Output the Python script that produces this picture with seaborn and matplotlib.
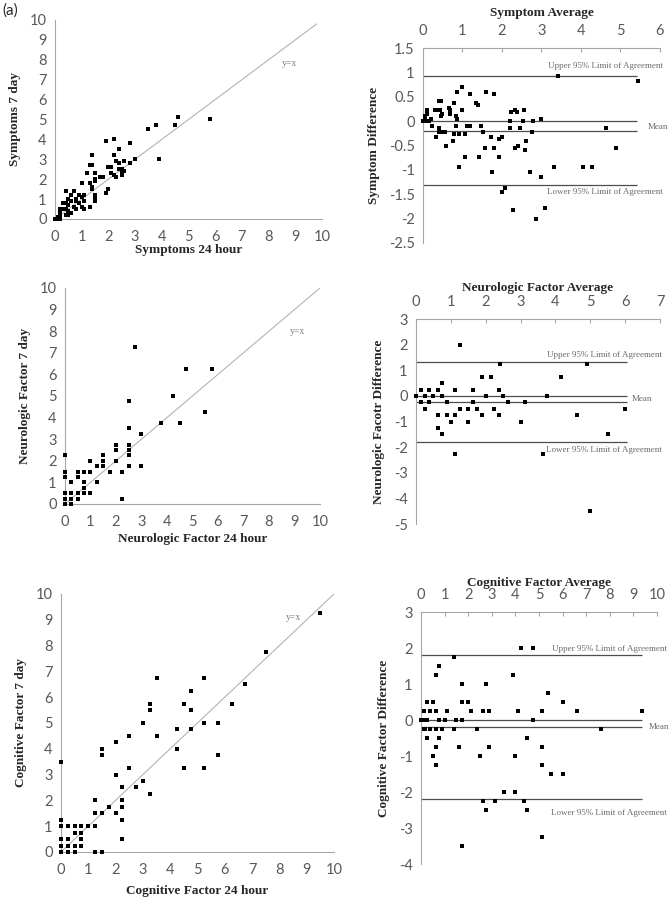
import matplotlib
matplotlib.use("Agg")
import matplotlib.pyplot as plt
import seaborn as sns
import pandas as pd

# -------------------------------
# Data
# -------------------------------
sym_24 = [5.8, 4.6, 4.5, 3.8, 3.5, 3.9, 3.0, 2.8, 2.8, 2.6, 2.4, 2.2, 1.9, 2.2, 2.3, 2.4, 2.0, 2.1,
          2.1, 2.2, 2.3, 2.4, 2.5, 2.5, 2.5, 2.6, 1.4, 1.3, 1.4, 1.2, 1.5, 1.5, 1.5, 1.3, 1.0, 1.4,
          1.4, 1.7, 1.8, 1.9, 2.0, 1.5, 1.5, 1.5, 1.3, 1.1, 1.1, 1.0, 1.0, 1.1, 0.9, 0.8, 0.8, 0.9,
          0.7, 0.4, 0.6, 0.5, 0.6, 0.4, 0.3, 0.5, 0.7, 0.8, 0.3, 0.2, 0.4, 0.5, 0.6, 0.4, 0.5, 0.2,
          0.2, 0.1, 0.2, 0.1, 0.0, 0.15]
sym_7 = [5.0, 5.1, 4.7, 4.7, 4.5, 3.0, 3.0, 3.8, 2.8, 2.9, 3.5, 4.0, 3.9, 3.2, 2.9, 2.8, 2.6, 2.6,
         2.3, 2.2, 2.1, 2.5, 2.5, 2.3, 2.2, 2.4, 3.2, 2.7, 2.7, 2.3, 2.3, 2.0, 1.9, 1.8, 1.8, 1.6,
         1.5, 2.1, 2.1, 1.3, 1.5, 1.2, 1.1, 0.9, 0.6, 1.2, 0.9, 1.1, 0.6, 0.5, 1.2, 1.0, 0.9, 0.8,
         1.4, 1.4, 1.2, 1.0, 0.9, 0.8, 0.8, 0.7, 0.6, 0.5, 0.5, 0.5, 0.5, 0.4, 0.3, 0.2, 0.2, 0.3,
         0.1, 0.1, 0.0, 0.0, 0.0, 0.05]

sym_avg = [5.44, 3.42, 4.64, 4.89, 4.27, 4.04, 3.31, 3.0, 3.09, 2.87, 2.29, 2.01, 2.07, 2.72, 1.76,
           3.0, 2.79, 2.77, 2.62, 2.59, 2.41, 2.32, 2.45, 2.52, 2.55, 2.33, 2.39, 2.24, 2.2, 2.21,
           1.99, 1.92, 1.93, 1.79, 1.72, 1.79, 1.59, 1.57, 1.53, 1.46, 1.42, 1.4, 1.34, 1.18, 1.11,
           1.06, 1.06, 1.18, 0.99, 0.85, 0.99, 0.91, 0.9, 0.83, 0.85, 0.83, 0.78, 0.79, 0.76, 0.66,
           0.68, 0.68, 0.58, 0.57, 0.51, 0.46, 0.48, 0.45, 0.4, 0.45, 0.42, 0.35, 0.4, 0.41, 0.34,
           0.3, 0.23, 0.21, 0.11, 0.1, 0.09, 0.05, 0.06, 0.0, 0.1, 0.15]
sym_diff = [0.83, 0.92, -0.14, -0.55, -0.95, -0.95, -0.95, -1.14, -1.78, -2.0, -1.83, -1.45, -1.37,
            -1.05, -1.05, 0.05, 0.0, -0.23, -0.4, -0.59, -0.5, -0.55, -0.14, 0.0, 0.23, 0.23, 0.18,
            0.18, 0.0, -0.14, -0.32, -0.36, -0.73, -0.55, -0.32, 0.55, 0.6, -0.55, -0.23, -0.1,
            -0.73, 0.33, 0.37, -0.1, -0.1, -0.27, -0.73, 0.55, 0.69, 0.6, 0.23, -0.27, -0.95, -0.1,
            0.05, 0.1, 0.37, -0.27, -0.41, 0.27, 0.23, 0.14, -0.5, -0.23, -0.23, -0.23, 0.14, 0.1,
            0.41, 0.41, 0.23, 0.23, -0.14, -0.23, -0.32, 0.23, -0.1, 0.05, 0.23, 0.18, 0.14, 0.05,
            0.1, 0.0, 0.0, 0.0]
sym_loa = (0.93, -0.2, -1.30)

neu_24 = [2.75, 4.75, 5.75, 4.25, 2.5, 5.5, 3.75, 4.5, 2.5, 3.0, 2.0, 2.5, 2.0, 2.5, 2.5, 1.5, 2.0,
          1.5, 1.0, 0.0, 1.25, 1.5, 2.5, 3.0, 1.75, 2.25, 1.0, 0.75, 0.5, 0.0, 0.0, 0.5, 0.25, 0.75,
          1.25, 0.75, 0.0, 0.25, 0.5, 0.75, 1.0, 0.0, 0.25, 0.5, 2.25, 0.0, 0.25]
neu_7 = [7.25, 6.25, 6.25, 5.0, 4.75, 4.25, 3.75, 3.75, 3.5, 3.25, 2.75, 2.75, 2.5, 2.5, 2.25, 2.25,
         2.0, 2.0, 2.0, 2.25, 1.75, 1.75, 1.75, 1.75, 1.5, 1.5, 1.5, 1.5, 1.5, 1.5, 1.25, 1.25, 1.0,
         1.0, 1.0, 0.75, 0.5, 0.5, 0.5, 0.5, 0.5, 0.25, 0.25, 0.25, 0.25, 0.0, 0.0]

neu_avg = [1.25, 2.4, 4.9, 4.15, 1.9, 2.15, 0.75, 0.13, 0.38, 0.63, 1.13, 1.63, 2.38, 0.0, 0.25,
           0.5, 0.75, 2.0, 2.5, 3.75, 0.13, 0.38, 0.88, 1.63, 2.63, 3.13, 0.25, 1.25, 1.5, 1.75,
           2.25, 6.0, 0.63, 0.88, 1.13, 1.88, 2.38, 4.63, 1.0, 1.5, 3.0, 0.63, 0.75, 5.5, 1.13,
           3.63, 5.0]
neu_diff = [2.0, 1.25, 1.25, 0.75, 0.75, 0.75, 0.5, 0.25, 0.25, 0.25, 0.25, 0.25, 0.25, 0.0, 0.0,
            0.0, 0.0, 0.0, 0.0, 0.0, -0.25, -0.25, -0.25, -0.25, -0.25, -0.25, -0.5, -0.5, -0.5,
            -0.5, -0.5, -0.5, -0.75, -0.75, -0.75, -0.75, -0.75, -0.75, -1.0, -1.0, -1.0, -1.25,
            -1.5, -1.5, -2.25, -2.25, -4.5]
neu_loa = (1.34, -0.25, -1.79)

cog_24 = [9.5, 7.5, 6.75, 6.25, 5.75, 5.75, 5.25, 5.25, 5.25, 4.75, 4.75, 4.75, 4.5, 4.5, 4.25,
          4.25, 3.5, 3.5, 3.25, 3.25, 3.25, 3.0, 3.0, 2.75, 2.5, 2.5, 2.25, 2.25, 2.25, 2.25, 2.25,
          2.0, 2.0, 2.0, 1.75, 1.5, 1.5, 1.5, 1.5, 1.25, 1.25, 1.25, 1.25, 1.0, 0.75, 0.75, 0.75,
          0.75, 0.5, 0.5, 0.5, 0.5, 0.25, 0.25, 0.25, 0.25, 0.0, 0.0, 0.0, 0.0, 0.0, 0.0]
cog_7 = [9.25, 7.75, 6.5, 5.75, 5.0, 3.75, 6.75, 5.0, 3.25, 6.25, 5.5, 4.75, 5.75, 3.25, 4.75, 4.0,
         6.75, 4.5, 5.75, 5.5, 2.25, 5.0, 2.75, 2.5, 4.5, 3.25, 2.5, 2.0, 1.75, 1.25, 0.5, 4.25,
         3.0, 1.5, 1.75, 4.0, 3.75, 1.5, 0.0, 2.0, 1.5, 1.0, 0.0, 1.0, 1.0, 0.75, 0.5, 0.25, 1.0,
         0.75, 0.25, 0.0, 1.0, 0.5, 0.25, 0.0, 3.5, 1.25, 1.0, 0.5, 0.25, 0.0]

cog_avg = [9.38, 7.62, 6.62, 6.0, 6.0, 5.5, 5.38, 5.12, 5.12, 5.12, 5.12, 4.75, 4.25, 4.75, 4.5,
           4.5, 4.38, 4.12, 3.88, 4.0, 4.0, 3.5, 3.12, 2.62, 2.75, 2.5, 2.88, 2.75, 2.62, 2.88,
           2.38, 2.12, 2.0, 1.75, 1.75, 1.75, 1.62, 1.75, 1.38, 1.38, 1.5, 1.12, 1.0, 0.88, 0.75,
           0.62, 0.62, 0.62, 0.62, 0.62, 0.75, 0.75, 0.5, 0.5, 0.38, 0.38, 0.25, 0.25, 0.25, 0.12,
           0.12, 0.16, 0.0, 0.12]
cog_diff = [0.25, -0.25, 0.25, 0.5, -1.5, -1.5, 0.75, 0.25, -0.75, -1.25, -3.25, 2.0, 2.0, 0.0,
            -0.5, -2.5, -2.25, 0.25, 1.25, -1.0, -2.0, -2.0, -2.25, -2.25, -2.5, -1.0, -0.75, 1.0,
            0.25, 0.25, -0.25, 0.25, 0.5, 0.5, 1.0, 0.0, -0.75, -3.5, 1.75, -0.25, 0.0, 0.25, 0.0,
            -0.25, 1.5, 1.25, 0.25, -0.25, -0.75, -1.25, 0.0, -0.5, 0.5, -1.0, 0.25, -0.25, 0.5,
            0.0, -0.5, 0.25, -0.25, -0.25, 0.0, 0.0]
cog_loa = (1.80, -0.2, -2.19)

# -------------------------------
# Style
# -------------------------------
sns.set_style("white")
plt.rcParams['font.family'] = ['Lato', 'DejaVu Sans']
plt.rcParams['axes.unicode_minus'] = False

TICK_C = "#595959"
SPINE_C = "#a6a6a6"
LINE_C = "#4d4d4d"
SERIF = ['Liberation Serif', 'DejaVu Serif']
TICK_SIZE = 10.5

fig = plt.figure(figsize=(6.7, 8.99), dpi=100)


def label_font(size=9.5):
    return dict(family=SERIF, weight='bold', size=size, color="#262626")


def style_scatter_axes(ax, xlabel, ylabel, xlabelpad):
    ax.set_xlim(0, 10)
    ax.set_ylim(0, 10)
    ax.set_xticks(range(0, 11))
    ax.set_yticks(range(0, 11))
    for s in ['top', 'right']:
        ax.spines[s].set_visible(False)
    for s in ['left', 'bottom']:
        ax.spines[s].set_color(SPINE_C)
        ax.spines[s].set_linewidth(0.8)
    ax.tick_params(axis='x', direction='in', length=3, color=SPINE_C, labelsize=TICK_SIZE,
                   labelcolor=TICK_C, pad=8)
    ax.tick_params(axis='y', direction='out', length=3, color=SPINE_C, labelsize=TICK_SIZE,
                   labelcolor=TICK_C, pad=3)
    ax.set_xlabel(xlabel, **label_font(), labelpad=xlabelpad)
    ax.set_ylabel(ylabel, **label_font(), labelpad=6)


def style_ba_axes(ax, xmax, ylo, yhi, ystep, xlabel, ylabel, titlepad):
    ax.set_xlim(0, xmax)
    ax.set_ylim(ylo, yhi)
    ax.set_xticks(range(0, xmax + 1))
    yt = []
    v = yhi
    while v >= ylo - 1e-9:
        yt.append(round(v, 2))
        v -= ystep
    ax.set_yticks(yt)
    ax.yaxis.set_major_formatter(matplotlib.ticker.FormatStrFormatter('%g'))
    ax.xaxis.tick_top()
    ax.xaxis.set_label_position('top')
    for s in ['bottom', 'right']:
        ax.spines[s].set_visible(False)
    for s in ['left', 'top']:
        ax.spines[s].set_color(SPINE_C)
        ax.spines[s].set_linewidth(0.8)
    ax.tick_params(axis='x', direction='in', length=3, color=SPINE_C, labelsize=TICK_SIZE,
                   labelcolor=TICK_C, pad=7)
    ax.tick_params(axis='y', direction='out', length=3, color=SPINE_C, labelsize=TICK_SIZE,
                   labelcolor=TICK_C, pad=3)
    ax.set_xlabel(xlabel, **label_font(), labelpad=titlepad)
    ax.set_ylabel(ylabel, **label_font(), labelpad=6)


def draw_scatter(ax, x, y, line_end, lbl_xy):
    df = pd.DataFrame({'x': x, 'y': y})
    ax.plot([0, line_end], [0, line_end], color="#b3b3b3", lw=0.8, zorder=1)
    sns.scatterplot(data=df, x='x', y='y', ax=ax, color='black', s=5, marker='s',
                    linewidth=0, zorder=3, clip_on=False)
    ax.text(lbl_xy[0], lbl_xy[1], "y=x", family=SERIF, size=7, color="#7f7f7f",
            ha='center', va='center')


def draw_ba(ax, avg, diff, loa, line_end, txt):
    df = pd.DataFrame({'avg': avg, 'diff': diff})
    upper, mean, lower = loa
    ax.hlines([upper, 0, mean, lower], 0, line_end, color=LINE_C, lw=0.9, zorder=1)
    sns.scatterplot(data=df, x='avg', y='diff', ax=ax, color='black', s=5, marker='s',
                    linewidth=0, zorder=3, clip_on=False)
    tf = dict(family=SERIF, size=6.5, color="#6b6b6b", clip_on=False)
    ax.text(txt['x_right'], txt['upper_y'], "Upper 95% Limit of Agreement", ha='right',
            va='center', **tf)
    ax.text(txt['mean_x'], txt['mean_y'], "Mean", ha='center', va='center', **tf)
    ax.text(txt['x_right'], txt['lower_y'], "Lower 95% Limit of Agreement", ha='right',
            va='center', **tf)


# -------------------------------
# Panel 1 & 2: symptoms
# -------------------------------
ax1 = fig.add_axes([0.0821, 0.7564, 0.3985, 0.2214])
draw_scatter(ax1, sym_24, sym_7, 9.8, (8.8, 7.8))
style_scatter_axes(ax1, "Symptoms 24 hour", "Symptoms 7 day", 0)

ax2 = fig.add_axes([0.6313, 0.7297, 0.3537, 0.2169])
draw_ba(ax2, sym_avg, sym_diff, sym_loa, 5.43,
        dict(x_right=6.08, upper_y=1.13, mean_x=5.95, mean_y=-0.12, lower_y=-1.46))
style_ba_axes(ax2, 6, -2.5, 1.5, 0.5, "Symptom Average", "Symptom Difference", 6)

# -------------------------------
# Panel 3 & 4: neurologic factor
# -------------------------------
ax3 = fig.add_axes([0.0970, 0.4394, 0.3806, 0.2403])
draw_scatter(ax3, neu_24, neu_7, 10, (9.1, 8.0))
style_scatter_axes(ax3, "Neurologic Factor 24 hour", "Neurologic Factor 7 day", 3)

ax4 = fig.add_axes([0.6209, 0.4171, 0.3642, 0.2280])
draw_ba(ax4, neu_avg, neu_diff, neu_loa, 6.05,
        dict(x_right=7.05, upper_y=1.6, mean_x=6.48, mean_y=-0.12, lower_y=-2.1))
style_ba_axes(ax4, 7, -5, 3, 1, "Neurologic Factor Average", "Neurologic Facotr Difference", 3)

# -------------------------------
# Panel 5 & 6: cognitive factor
# -------------------------------
ax5 = fig.add_axes([0.0910, 0.0523, 0.4075, 0.2870])
draw_scatter(ax5, cog_24, cog_7, 10, (8.5, 9.1))
style_scatter_axes(ax5, "Cognitive Factor 24 hour", "Cognitive Factor 7 day", 6)

ax6 = fig.add_axes([0.6284, 0.0389, 0.3522, 0.2803])
draw_ba(ax6, cog_avg, cog_diff, cog_loa, 9.36,
        dict(x_right=10.4, upper_y=1.97, mean_x=10.1, mean_y=-0.19, lower_y=-2.58))
style_ba_axes(ax6, 10, -4, 3, 1, "Cognitive Factor Average", "Cognitive Factor Difference", 2)

fig.text(0.003, 0.988, "(a)", size=11, color="#262626", ha='left', va='center')

fig.savefig("out.png", dpi=100)
